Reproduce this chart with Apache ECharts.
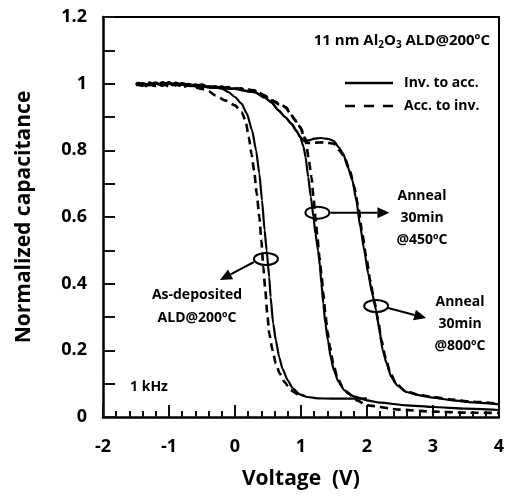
<!doctype html>
<html>
<head>
<meta charset="utf-8">
<title>C-V curves, 11 nm Al2O3</title>
<script src="https://cdn.jsdelivr.net/npm/echarts@6/dist/echarts.min.js"></script>
<style>html,body{margin:0;padding:0;background:#fff}#chart{width:507px;height:502px}</style>
</head>
<body>
<div id="chart"></div>
<script>
var xTickLabels = [-2, -1, 0, 1, 2, 3, 4];
var yTickLabels = [0, 0.2, 0.4, 0.6, 0.8, 1, 1.2];

var asDepInv = [[-1.5,1.0],[-1.45,0.995],[-1.4,1.0],[-1.35,0.992],[-1.3,0.998],[-1.25,0.994],[-1.2,1.002],[-1.1,0.996],[-1.0,1.005],[-0.95,0.995],[-0.9,1.003],[-0.8,0.996],[-0.7,0.999],[-0.6,0.991],[-0.5,0.994],[-0.4,0.988],[-0.3,0.99],[-0.2,0.985],[-0.1,0.975],[0.0,0.96],[0.1,0.94],[0.18,0.91],[0.26,0.86],[0.32,0.80],[0.37,0.73],[0.41,0.65],[0.45,0.56],[0.48,0.50],[0.52,0.42],[0.54,0.36],[0.58,0.28],[0.62,0.23],[0.67,0.18],[0.72,0.145],[0.8,0.11],[0.88,0.085],[0.98,0.068],[1.1,0.06],[1.25,0.056],[1.5,0.055],[1.75,0.055],[2.0,0.056]];
var asDepAcc = [[-1.5,0.998],[-1.45,1.002],[-1.4,0.994],[-1.3,1.0],[-1.2,0.993],[-1.1,1.003],[-1.0,0.996],[-0.9,0.999],[-0.8,0.99],[-0.7,0.995],[-0.6,0.988],[-0.5,0.984],[-0.4,0.978],[-0.3,0.965],[-0.15,0.95],[0.0,0.935],[0.1,0.915],[0.16,0.89],[0.21,0.84],[0.25,0.79],[0.29,0.74],[0.33,0.67],[0.37,0.60],[0.4,0.53],[0.43,0.45],[0.46,0.38],[0.49,0.31],[0.52,0.25],[0.57,0.20],[0.62,0.16],[0.68,0.13],[0.75,0.105],[0.85,0.08],[0.96,0.068],[1.05,0.063]];
var a450Inv = [[-1.5,0.997],[-1.4,1.002],[-1.3,0.995],[-1.2,1.0],[-1.1,0.993],[-1.0,1.004],[-0.9,0.997],[-0.8,1.0],[-0.7,0.994],[-0.6,0.998],[-0.5,0.99],[-0.4,0.993],[-0.3,0.988],[-0.2,0.99],[-0.1,0.985],[0.0,0.986],[0.1,0.98],[0.2,0.978],[0.3,0.975],[0.45,0.96],[0.55,0.945],[0.66,0.92],[0.76,0.90],[0.86,0.88],[0.93,0.86],[0.99,0.84],[1.04,0.81],[1.07,0.78],[1.11,0.72],[1.15,0.66],[1.19,0.60],[1.22,0.55],[1.26,0.50],[1.29,0.45],[1.31,0.40],[1.34,0.34],[1.37,0.28],[1.41,0.23],[1.45,0.18],[1.5,0.14],[1.57,0.105],[1.66,0.08],[1.8,0.062],[2.0,0.05],[2.2,0.043],[2.6,0.035],[3.0,0.03],[3.5,0.025],[4.0,0.021]];
var a450Acc = [[-1.5,1.0],[-1.4,0.994],[-1.3,1.003],[-1.2,0.996],[-1.1,1.0],[-1.0,0.992],[-0.9,1.002],[-0.8,0.995],[-0.7,0.999],[-0.6,0.99],[-0.5,0.996],[-0.4,0.99],[-0.3,0.992],[-0.2,0.986],[-0.1,0.99],[0.0,0.985],[0.1,0.986],[0.2,0.982],[0.3,0.98],[0.45,0.965],[0.56,0.95],[0.67,0.94],[0.77,0.93],[0.86,0.905],[0.92,0.89],[0.99,0.87],[1.04,0.85],[1.08,0.82],[1.12,0.77],[1.16,0.72],[1.19,0.66],[1.22,0.60],[1.25,0.54],[1.28,0.48],[1.31,0.43],[1.34,0.37],[1.37,0.31],[1.4,0.26],[1.44,0.21],[1.49,0.16],[1.55,0.12],[1.63,0.09],[1.72,0.07],[1.85,0.05],[2.0,0.035],[2.5,0.022],[3.0,0.016],[3.5,0.013],[4.0,0.012]];
var a800Inv = [[-1.5,0.995],[-1.4,1.0],[-1.3,0.997],[-1.2,1.004],[-1.1,0.995],[-1.0,1.0],[-0.9,0.994],[-0.8,1.002],[-0.7,0.996],[-0.6,0.993],[-0.5,0.998],[-0.4,0.99],[-0.3,0.987],[-0.2,0.992],[-0.1,0.984],[0.0,0.985],[0.1,0.982],[0.2,0.976],[0.3,0.974],[0.45,0.958],[0.55,0.944],[0.66,0.92],[0.76,0.90],[0.86,0.878],[0.93,0.858],[0.99,0.84],[1.05,0.828],[1.12,0.83],[1.2,0.835],[1.3,0.837],[1.42,0.834],[1.5,0.828],[1.57,0.81],[1.64,0.79],[1.71,0.75],[1.78,0.71],[1.84,0.65],[1.9,0.57],[1.96,0.50],[2.02,0.43],[2.08,0.37],[2.14,0.32],[2.19,0.26],[2.24,0.20],[2.3,0.16],[2.37,0.12],[2.46,0.095],[2.6,0.075],[2.8,0.065],[3.0,0.058],[3.3,0.05],[3.6,0.044],[4.0,0.038]];
var a800Acc = [[-1.5,1.002],[-1.4,0.996],[-1.3,1.0],[-1.2,0.993],[-1.1,1.003],[-1.0,0.997],[-0.9,1.0],[-0.8,0.992],[-0.7,0.997],[-0.6,0.99],[-0.5,0.994],[-0.4,0.988],[-0.3,0.99],[-0.2,0.985],[-0.1,0.988],[0.0,0.984],[0.1,0.984],[0.2,0.98],[0.3,0.978],[0.45,0.963],[0.56,0.95],[0.67,0.938],[0.77,0.928],[0.86,0.903],[0.92,0.888],[0.99,0.868],[1.04,0.845],[1.1,0.822],[1.2,0.823],[1.35,0.824],[1.5,0.82],[1.58,0.80],[1.66,0.78],[1.74,0.74],[1.81,0.69],[1.87,0.63],[1.93,0.55],[1.99,0.48],[2.05,0.41],[2.11,0.35],[2.17,0.29],[2.22,0.23],[2.28,0.18],[2.35,0.135],[2.44,0.10],[2.58,0.078],[2.8,0.066],[3.0,0.06],[3.3,0.052],[3.6,0.046],[4.0,0.04]];

var legendLabels = ['Inv. to acc.', 'Acc. to inv.'];
var noteAsDep = ['As-deposited', 'ALD@200ºC'];
var note450 = ['Anneal', '30min', '@450ºC'];
var note800 = ['Anneal', '30min', '@800ºC'];
var freqLabel = '1 kHz';
var ellAsDep = [0.47, 0.474], ell450 = [1.25, 0.613], ell800 = [2.14, 0.333];

var F = 'Open Sans';
var myChart = echarts.init(document.getElementById('chart'));

function curve(d, dashed) {
  return { type: 'line', data: d, showSymbol: false, smooth: 0.2, smoothMonotone: 'x', z: 3,
    lineStyle: { color: '#000', width: dashed ? 2.6 : 2.2, type: dashed ? [8, 5] : 'solid' } };
}

myChart.setOption({
  animation: false,
  grid: { left: 103, right: 6, top: 17, bottom: 85 },
  xAxis: [{
    type: 'value', min: -2, max: 4, interval: 1,
    name: 'Voltage  (V)', nameLocation: 'middle', nameGap: 52,
    nameTextStyle: { fontFamily: F, fontWeight: 'bold', fontSize: 21, color: '#000' },
    axisLine: { show: true, onZero: false, lineStyle: { color: '#000', width: 2.5 } },
    axisTick: { show: true, inside: true, length: 12, lineStyle: { color: '#111', width: 2 } },
    minorTick: { show: true, splitNumber: 5, length: 6, lineStyle: { color: '#111', width: 2 } },
    splitLine: { show: false },
    axisLabel: { margin: 21, fontFamily: F, fontWeight: 'bold', fontSize: 18, color: '#000' }
  }, {
    type: 'value', min: -2, max: 4, position: 'top',
    axisLine: { show: true, onZero: false, lineStyle: { color: '#000', width: 2 } },
    axisTick: { show: false }, axisLabel: { show: false }, splitLine: { show: false }
  }],
  yAxis: [{
    type: 'value', min: 0, max: 1.2, interval: 0.2,
    name: 'Normalized capacitance', nameLocation: 'middle', nameGap: 68,
    nameTextStyle: { fontFamily: F, fontWeight: 'bold', fontSize: 21, color: '#000' },
    axisLine: { show: true, onZero: false, lineStyle: { color: '#000', width: 2.5 } },
    axisTick: { show: true, inside: true, length: 12, lineStyle: { color: '#111', width: 2 } },
    minorTick: { show: true, splitNumber: 2, length: 12, lineStyle: { color: '#111', width: 2 } },
    splitLine: { show: false },
    axisLabel: { margin: 16, fontFamily: F, fontWeight: 'bold', fontSize: 18, color: '#000' }
  }, {
    type: 'value', min: 0, max: 1.2, position: 'right',
    axisLine: { show: true, onZero: false, lineStyle: { color: '#000', width: 2 } },
    axisTick: { show: false }, axisLabel: { show: false }, splitLine: { show: false }
  }],
  series: [curve(asDepInv, false), curve(asDepAcc, true), curve(a450Inv, false),
           curve(a450Acc, true), curve(a800Inv, false), curve(a800Acc, true)]
});

function toPx(p) { return myChart.convertToPixel({ xAxisIndex: 0, yAxisIndex: 0 }, p); }
function txt(x, y, s, align) {
  return { type: 'text', x: x, y: y, z: 10,
    style: { text: s, fill: '#000', font: 'bold 14px "' + F + '"', align: align || 'center', verticalAlign: 'middle' } };
}
function oval(c) {
  return { type: 'ellipse', z: 10, shape: { cx: c[0], cy: c[1], rx: 12, ry: 6 }, style: { fill: 'none', stroke: '#000', lineWidth: 2 } };
}
function arr(a, b) {
  var dx = b[0] - a[0], dy = b[1] - a[1], L = Math.sqrt(dx * dx + dy * dy), ux = dx / L, uy = dy / L;
  var bx = b[0] - ux * 12, by = b[1] - uy * 12;
  return [
    { type: 'line', z: 10, shape: { x1: a[0], y1: a[1], x2: bx, y2: by }, style: { stroke: '#000', lineWidth: 2 } },
    { type: 'polygon', z: 10, shape: { points: [[b[0], b[1]], [bx - uy * 5.5, by + ux * 5.5], [bx + uy * 5.5, by - ux * 5.5]] }, style: { fill: '#000' } }
  ];
}

var pA = toPx(ellAsDep), p4 = toPx(ell450), p8 = toPx(ell800);
var els = [oval(pA), oval(p4), oval(p8)]
  .concat(arr([pA[0] - 12, pA[1] + 3], [pA[0] - 46, pA[1] + 21]))
  .concat(arr([p4[0] + 13, p4[1]], [p4[0] + 72, p4[1]]))
  .concat(arr([p8[0] + 12, p8[1] + 2], [p8[0] + 50, p8[1] + 12]));

els.push({
  type: 'text', x: 490, y: 41, z: 10,
  style: {
    text: '{n|11 nm Al}{s|2}{n|O}{s|3}{n| ALD@200ºC}', align: 'right', verticalAlign: 'middle',
    rich: {
      n: { fontFamily: F, fontWeight: 'bold', fontSize: 15, fill: '#000', height: 20 },
      s: { fontFamily: F, fontWeight: 'bold', fontSize: 10, fill: '#000', padding: [9, 0, 0, 0], height: 20 }
    }
  }
});
els.push({ type: 'line', z: 10, shape: { x1: 345, y1: 83, x2: 393, y2: 83 }, style: { stroke: '#000', lineWidth: 2.5 } });
els.push({ type: 'line', z: 10, shape: { x1: 345, y1: 106, x2: 393, y2: 106 }, style: { stroke: '#000', lineWidth: 2.5, lineDash: [10, 9] } });
els.push(txt(404, 83, legendLabels[0], 'left'), txt(404, 106, legendLabels[1], 'left'));
els.push(txt(149, 387, freqLabel));
els.push(txt(197, 295, noteAsDep[0]), txt(197, 318, noteAsDep[1]));
els.push(txt(422, 196, note450[0]), txt(422, 218, note450[1]), txt(422, 240, note450[2]));
els.push(txt(460, 302, note800[0]), txt(460, 324, note800[1]), txt(460, 346, note800[2]));

myChart.setOption({ graphic: els });
</script>
</body>
</html>
